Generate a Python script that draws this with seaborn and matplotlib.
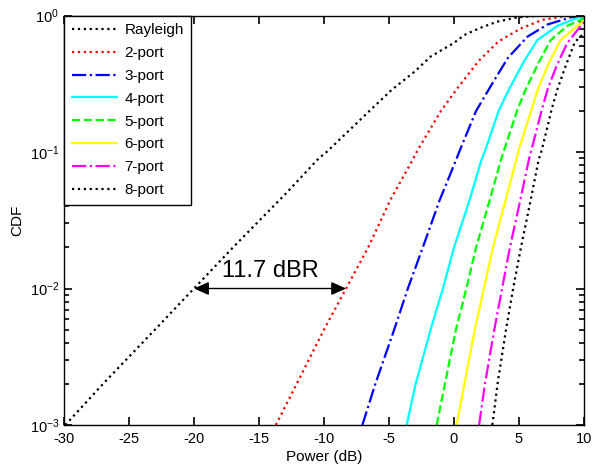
import numpy as np
import pandas as pd
import matplotlib
matplotlib.use("Agg")
import matplotlib.pyplot as plt
import seaborn as sns
from matplotlib.ticker import LogLocator, FixedLocator

# ---- data (Power in dB, CDF) ----
ray_x = [-29.9, -27.0, -23.0, -20.0, -17.0, -12.9, -10.4, -9.8, -6.5, -4.8, -3.0, -1.8, 0.0, 0.8, 2.0, 3.3, 4.9, 6.5, 8.0, 10.0]
ray_p = [0.001, 0.002, 0.005, 0.01, 0.02, 0.05, 0.09, 0.1, 0.2, 0.285, 0.39, 0.5, 0.63, 0.72, 0.81, 0.90, 0.97, 0.995, 0.999, 1.0]

p2_x = [-13.7, -12.1, -10.0, -8.3, -6.6, -4.9, -3.2, -2.8, -1.0, 0.2, 1.9, 3.4, 5.1, 6.8, 8.6, 10.0]
p2_p = [0.001, 0.002, 0.005, 0.01, 0.02, 0.0445, 0.087, 0.103, 0.2, 0.288, 0.465, 0.643, 0.80, 0.93, 0.99, 1.0]

p3_x = [-7.05, -6.05, -4.6, -3.55, -2.4, -1.1, 0.15, 0.45, 1.7, 2.95, 4.15, 5.65, 7.2, 9.0, 10.0]
p3_p = [0.001, 0.002, 0.005, 0.01, 0.02, 0.0445, 0.087, 0.103, 0.2, 0.318, 0.49, 0.70, 0.86, 0.97, 0.99]

p4_x = [-3.64, -2.95, -1.8, -0.85, 0.0, 1.2, 2.1, 2.4, 3.46, 4.23, 5.4, 6.41, 7.95, 9.5, 10.0]
p4_p = [0.001, 0.002, 0.005, 0.01, 0.02, 0.0445, 0.087, 0.103, 0.203, 0.288, 0.465, 0.66, 0.84, 0.96, 0.98]

p5_x = [-1.33, -0.7, 0.15, 0.95, 1.7, 2.75, 3.6, 3.85, 4.87, 5.52, 6.5, 7.44, 8.72, 9.88, 10.0]
p5_p = [0.001, 0.002, 0.005, 0.01, 0.02, 0.0445, 0.087, 0.103, 0.203, 0.288, 0.45, 0.66, 0.84, 0.94, 0.95]

p6_x = [0.2, 0.8, 1.6, 2.3, 3.0, 3.97, 4.78, 4.97, 5.95, 6.45, 7.3, 8.2, 9.5, 10.0]
p6_p = [0.001, 0.002, 0.005, 0.01, 0.02, 0.0445, 0.087, 0.103, 0.203, 0.288, 0.45, 0.66, 0.84, 0.92]

p7_x = [1.93, 2.38, 3.1, 3.7, 4.3, 5.1, 5.75, 5.95, 6.75, 7.2, 7.9, 8.72, 9.62, 10.0]
p7_p = [0.001, 0.002, 0.005, 0.01, 0.02, 0.0445, 0.087, 0.103, 0.203, 0.288, 0.43, 0.63, 0.81, 0.89]

p8_x = [2.95, 3.35, 4.0, 4.55, 5.15, 5.9, 6.5, 6.75, 7.5, 7.95, 8.6, 9.3, 10.0]
p8_p = [0.001, 0.002, 0.005, 0.01, 0.02, 0.0445, 0.087, 0.103, 0.203, 0.288, 0.43, 0.64, 0.74]

labels = ["Rayleigh", "2-port", "3-port", "4-port", "5-port", "6-port", "7-port", "8-port"]
xs = [ray_x, p2_x, p3_x, p4_x, p5_x, p6_x, p7_x, p8_x]
ps = [ray_p, p2_p, p3_p, p4_p, p5_p, p6_p, p7_p, p8_p]
colors = ["#000000", "#FF0000", "#0000FF", "#00FFFF", "#00FF00", "#FFFF00", "#FF00FF", "#000000"]
styles = [":", ":", "-.", "-", "--", "-", "-.", ":"]

ann_left = -20.0
ann_right = -8.3
ann_level = 0.01
ann_text = "11.7 dBR"

sns.set_style("ticks")
plt.rcParams["font.family"] = ["Liberation Sans", "DejaVu Sans"]
plt.rcParams["mathtext.fontset"] = "custom"
plt.rcParams["mathtext.rm"] = "Liberation Sans"
plt.rcParams["mathtext.it"] = "Liberation Sans:italic"
plt.rcParams["axes.unicode_minus"] = False
plt.rcParams["text.color"] = "black"
plt.rcParams["axes.labelcolor"] = "black"

fig = plt.figure(figsize=(5.93, 4.72), dpi=100)
ax = fig.add_axes([64/593, 1-425/472, (584-64)/593, (425-15.5)/472])

for x, p, lab, c, ls in zip(xs, ps, labels, colors, styles):
    sns.lineplot(x=x, y=p, ax=ax, color=c, linestyle=ls, linewidth=1.6,
                 label=lab, sort=False, estimator=None)

ax.set_yscale("log")
ax.set_xlim(-30, 10)
ax.set_ylim(1e-3, 1)
ax.xaxis.set_major_locator(FixedLocator(np.arange(-30, 11, 5)))
ax.yaxis.set_major_locator(LogLocator(base=10, numticks=10))
ax.yaxis.set_minor_locator(LogLocator(base=10, subs=np.arange(2, 10), numticks=10))
ax.tick_params(axis="both", which="major", direction="in", top=True, right=True,
               bottom=True, left=True, labelsize=10.5, labelcolor="black",
               color="black", length=6, width=1.2)
ax.tick_params(axis="y", which="minor", direction="in", left=True, right=True,
               color="black", length=3.5, width=1.2)
ax.tick_params(axis="x", which="major", pad=5)
for s in ax.spines.values():
    s.set_linewidth(1.0)
    s.set_color("black")

ax.set_xlabel("Power (dB)", fontsize=11, labelpad=3)
ax.set_ylabel("CDF", fontsize=11, labelpad=4)

ax.annotate("", xy=(ann_left, ann_level), xytext=(ann_right, ann_level),
            arrowprops=dict(arrowstyle="<|-|>,head_length=0.9,head_width=0.4",
                            color="black", lw=1.0, shrinkA=0, shrinkB=0))
ax.text((ann_left + ann_right) / 2, ann_level * 1.12, ann_text, ha="center", va="bottom",
        fontsize=17)

leg = ax.legend(loc="upper left", borderaxespad=0, fontsize=11, handlelength=3.0,
                labelspacing=0.58, frameon=True, fancybox=False, borderpad=0.5,
                handletextpad=0.45)
leg.get_frame().set_edgecolor("black")
leg.get_frame().set_linewidth(1.0)
leg.get_frame().set_alpha(1)

fig.savefig("out.png", dpi=100)
